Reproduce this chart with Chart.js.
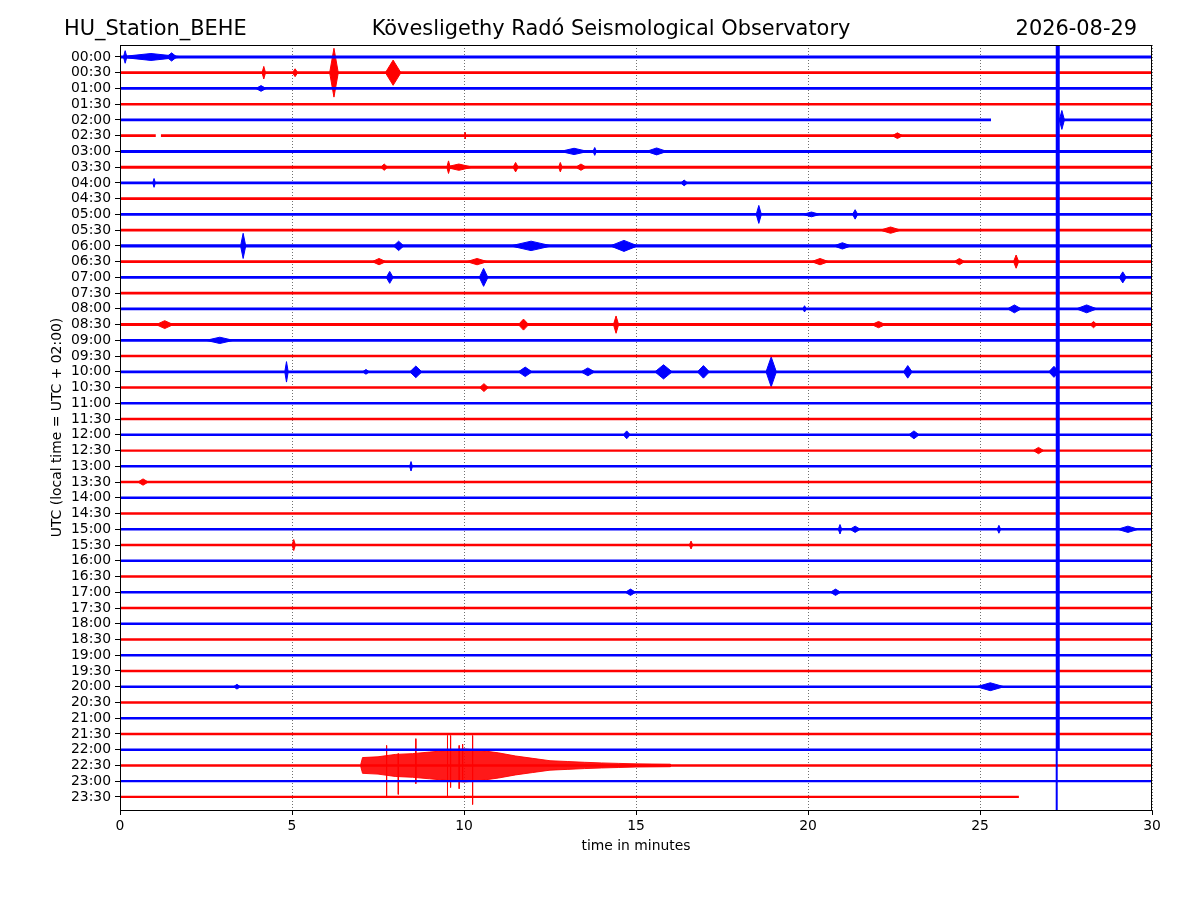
<!DOCTYPE html>
<html>
<head>
<meta charset="utf-8">
<title>HU_Station_BEHE helicorder</title>
<script src="https://cdn.jsdelivr.net/npm/chart.js@4/dist/chart.umd.min.js"></script>
<style>
  body { margin: 0; background: #fff; }
</style>
</head>
<body>
<canvas id="heli" width="1200" height="900"></canvas>
<script>
// header texts
const stationName = "HU_Station_BEHE";
const observatory = "Kövesligethy Radó Seismological Observatory";
const dayLabel = "2026-08-29";

// one trace per half hour, 30 minutes long
const traceLabels = [
  "00:00","00:30","01:00","01:30","02:00","02:30","03:00","03:30",
  "04:00","04:30","05:00","05:30","06:00","06:30","07:00","07:30",
  "08:00","08:30","09:00","09:30","10:00","10:30","11:00","11:30",
  "12:00","12:30","13:00","13:30","14:00","14:30","15:00","15:30",
  "16:00","16:30","17:00","17:30","18:00","18:30","19:00","19:30",
  "20:00","20:30","21:00","21:30","22:00","22:30","23:00","23:30"
];
const xTicks = [0, 5, 10, 15, 20, 25, 30];

// background noise half-amplitude of each trace (trace spacing = 1)
const noiseLevel = [
  0.095, 0.085, 0.085, 0.08, 0.085, 0.085, 0.095, 0.095,
  0.085, 0.085, 0.085, 0.085, 0.10, 0.085, 0.085, 0.08,
  0.085, 0.095, 0.085, 0.08, 0.085, 0.08, 0.08, 0.08,
  0.08, 0.075, 0.08, 0.08, 0.075, 0.075, 0.08, 0.075,
  0.075, 0.075, 0.075, 0.075, 0.075, 0.075, 0.075, 0.075,
  0.075, 0.075, 0.075, 0.075, 0.075, 0.075, 0.07, 0.07
];

// data gaps (minutes)
const gapTrace = [4, 5, 47];
const gapFrom  = [25.32, 1.04, 26.13];
const gapTo    = [27.30, 1.19, 30.00];

// local events: trace, time (min), half amplitude, duration (min)
const evTrace = [
  0, 0, 0,
  1, 1, 1, 1,
  2, 4, 5, 5,
  6, 6, 6,
  7, 7, 7, 7, 7, 7,
  8, 8,
  10, 10, 10, 11,
  12, 12, 12, 12, 12,
  13, 13, 13, 13, 13,
  14, 14, 14,
  16, 16, 16,
  17, 17, 17, 17, 17,
  18,
  20, 20, 20, 20, 20, 20, 20, 20, 20, 20,
  21, 24, 24, 25, 26, 27,
  30, 30, 30, 30,
  31, 31, 34, 34, 40, 40
];
const evTime = [
  0.9, 0.15, 1.5,
  4.18, 5.09, 6.22, 7.94,
  4.1, 27.38, 10.03, 22.6,
  13.2, 13.8, 15.6,
  7.68, 9.55, 9.85, 11.5, 12.8, 13.4,
  0.99, 16.4,
  18.57, 21.37, 20.1, 22.4,
  3.58, 8.1, 11.95, 14.65, 21.0,
  7.53, 10.38, 20.35, 24.4, 26.05,
  7.84, 10.57, 29.15,
  19.9, 26.0, 28.1,
  1.3, 11.73, 14.42, 22.05, 28.3,
  2.9,
  4.84, 7.15, 8.6, 11.78, 13.6, 15.8, 16.96, 18.93, 22.9, 27.15,
  10.58, 14.73, 23.08, 26.7, 8.46, 0.67,
  20.93, 21.37, 25.55, 29.3,
  5.05, 16.6, 14.84, 20.8, 25.3, 3.4
];
const evAmp = [
  0.22, 0.4, 0.26,
  0.4, 0.25, 1.55, 0.8,
  0.18, 0.6, 0.2, 0.18,
  0.2, 0.25, 0.22,
  0.2, 0.4, 0.2, 0.3, 0.3, 0.2,
  0.28, 0.18,
  0.57, 0.3, 0.15, 0.2,
  0.8, 0.3, 0.3, 0.35, 0.2,
  0.2, 0.2, 0.2, 0.2, 0.42,
  0.38, 0.57, 0.35,
  0.2, 0.25, 0.25,
  0.25, 0.35, 0.55, 0.2, 0.2,
  0.2,
  0.65, 0.15, 0.37, 0.3, 0.25, 0.45, 0.4, 0.95, 0.4, 0.35,
  0.25, 0.25, 0.25, 0.2, 0.3, 0.2,
  0.3, 0.2, 0.25, 0.2,
  0.35, 0.25, 0.2, 0.2, 0.25, 0.15
];
const evDur = [
  1.9, 0.1, 0.3,
  0.1, 0.15, 0.25, 0.45,
  0.3, 0.15, 0.05, 0.3,
  0.8, 0.1, 0.6,
  0.2, 0.1, 0.8, 0.15, 0.1, 0.3,
  0.08, 0.2,
  0.15, 0.15, 0.5, 0.6,
  0.15, 0.3, 1.2, 0.8, 0.5,
  0.4, 0.6, 0.5, 0.3, 0.15,
  0.2, 0.25, 0.2,
  0.1, 0.4, 0.6,
  0.5, 0.3, 0.15, 0.4, 0.2,
  0.8,
  0.1, 0.2, 0.35, 0.4, 0.4, 0.5, 0.35, 0.3, 0.25, 0.3,
  0.25, 0.2, 0.3, 0.3, 0.08, 0.3,
  0.1, 0.3, 0.1, 0.6,
  0.1, 0.1, 0.3, 0.3, 0.8, 0.2
];

// the earthquake on the 22:30 trace: envelope half amplitude
const quakeTrace = 45;
const quakeTime = [7.0, 7.05, 7.5, 8.0, 8.5, 9.0, 9.5, 10.0, 10.5, 11.0, 11.5, 12.0, 12.5, 13.0, 13.5, 14.0, 14.5, 15.0, 16.0];
const quakeAmp  = [0.08, 0.5, 0.55, 0.7, 0.75, 0.85, 0.95, 1.05, 0.95, 0.8, 0.6, 0.45, 0.3, 0.25, 0.2, 0.16, 0.13, 0.1, 0.08];
// single peaks sticking out of the envelope
const peakTime = [7.75, 8.09, 8.6, 9.52, 9.61, 9.86, 9.96, 10.25];
const peakUp   = [1.27, 0.76, 1.7, 1.9, 1.9, 1.27, 1.35, 1.9];
const peakDown = [2.03, 1.84, 1.16, 2.0, 1.4, 1.48, 1.0, 2.48];

// instrument glitch on the blue traces
const glitchTime = 27.26;
const glitchThickEnd = 44.0;

const traceColor = i => (i % 2 === 0 ? "#0000ff" : "#ff0000");

function shape(points, color, border) {
  return {
    type: "line",
    data: points,
    fill: "shape",
    backgroundColor: color,
    borderColor: border ? color : "rgba(0,0,0,0)",
    borderWidth: 1,
    pointRadius: 0,
    tension: 0
  };
}

const datasets = [];

// noise band of every trace, split at data gaps
traceLabels.forEach((_, i) => {
  let parts = [[0, 30]];
  gapTrace.forEach((g, k) => {
    if (g !== i) return;
    parts = parts.flatMap(([a, b]) => {
      const out = [];
      if (gapFrom[k] > a) out.push([a, Math.min(b, gapFrom[k])]);
      if (gapTo[k] < b) out.push([Math.max(a, gapTo[k]), b]);
      return out;
    });
  });
  const n = noiseLevel[i];
  parts.forEach(([a, b]) => {
    datasets.push(shape([
      { x: a, y: i - n }, { x: b, y: i - n }, { x: b, y: i + n }, { x: a, y: i + n }, { x: a, y: i - n }
    ], traceColor(i), false));
  });
});

// local events as spindles
evTrace.forEach((i, k) => {
  const t = evTime[k], a = evAmp[k], h = evDur[k] / 2;
  datasets.push(shape([
    { x: t - h, y: i }, { x: t, y: i - a }, { x: t + h, y: i }, { x: t, y: i + a }, { x: t - h, y: i }
  ], traceColor(i), true));
});

// earthquake envelope
const quakePts = quakeTime.map((t, k) => ({ x: t, y: quakeTrace - quakeAmp[k] }))
  .concat(quakeTime.slice().reverse().map((t, k) => ({ x: t, y: quakeTrace + quakeAmp[quakeAmp.length - 1 - k] })));
quakePts.push(quakePts[0]);
datasets.push(shape(quakePts, "rgba(255,0,0,0.9)", true));

peakTime.forEach((t, k) => {
  datasets.push({
    type: "line",
    data: [{ x: t, y: quakeTrace - peakUp[k] }, { x: t, y: quakeTrace + peakDown[k] }],
    borderColor: "#ff0000",
    borderWidth: 1,
    pointRadius: 0,
    fill: false
  });
});

// glitch line, thick part then thin part
datasets.push({
  type: "line", order: -1,
  data: [{ x: glitchTime, y: -2 }, { x: glitchTime, y: glitchThickEnd }],
  borderColor: "#0000ff", borderWidth: 4, pointRadius: 0, fill: false
});
datasets.push({
  type: "line", order: -1,
  data: [{ x: glitchTime - 0.03, y: glitchThickEnd }, { x: glitchTime - 0.03, y: 50 }],
  borderColor: "#0000ff", borderWidth: 2, pointRadius: 0, fill: false
});

// header texts and full frame
const headerPlugin = {
  id: "header",
  afterDraw(chart) {
    const { ctx, chartArea: a } = chart;
    ctx.save();
    ctx.strokeStyle = "#000";
    ctx.lineWidth = 1;
    ctx.strokeRect(a.left + 0.5, a.top + 0.5, a.right - a.left - 1, a.bottom - a.top);
    ctx.fillStyle = "#000";
    ctx.font = '20.9px "DejaVu Sans"';
    ctx.textBaseline = "alphabetic";
    ctx.textAlign = "left";
    ctx.fillText(stationName, 64, 35);
    ctx.textAlign = "center";
    ctx.fillText(observatory, 611, 35);
    ctx.textAlign = "right";
    ctx.fillText(dayLabel, 1137, 35);
    ctx.restore();
  }
};

Chart.defaults.font.family = '"DejaVu Sans", sans-serif';
Chart.defaults.color = "#000";

new Chart(document.getElementById("heli"), {
  type: "line",
  data: { datasets },
  plugins: [headerPlugin],
  options: {
    responsive: false,
    animation: false,
    devicePixelRatio: 1,
    layout: { padding: { left: 45, right: 48, top: 45, bottom: 45 } },
    plugins: { legend: { display: false }, tooltip: { enabled: false } },
    elements: { point: { radius: 0 }, line: { tension: 0 } },
    scales: {
      x: {
        type: "linear",
        min: 0,
        max: 30,
        afterBuildTicks: s => { s.ticks = xTicks.map(v => ({ value: v })); },
        ticks: { padding: 3, font: { size: 13.9 }, maxRotation: 0 },
        grid: { color: "rgba(0,0,0,0.7)", lineWidth: 0.8, tickLength: 5, tickColor: "#000", tickWidth: 1, tickBorderDash: [] },
        border: { color: "#000", width: 1, dash: [1, 2] },
        title: { display: true, text: "time in minutes", font: { size: 13.9 }, padding: { top: 4, bottom: 0 } },
        afterFit: s => { s.height = 45; }
      },
      y: {
        type: "linear",
        reverse: true,
        min: -0.76,
        max: 47.83,
        afterBuildTicks: s => { s.ticks = traceLabels.map((_, i) => ({ value: i })); },
        ticks: { autoSkip: false, padding: 4, font: { size: 13.9 }, callback: (v, idx) => traceLabels[idx] },
        grid: { drawOnChartArea: false, tickLength: 5, tickColor: "#000" },
        border: { color: "#000", width: 1 },
        title: { display: true, text: "UTC (local time = UTC + 02:00)", font: { size: 13.9 }, padding: { top: 4, bottom: 0 } },
        afterFit: s => { s.width = 75; }
      }
    }
  }
});
</script>
</body>
</html>
